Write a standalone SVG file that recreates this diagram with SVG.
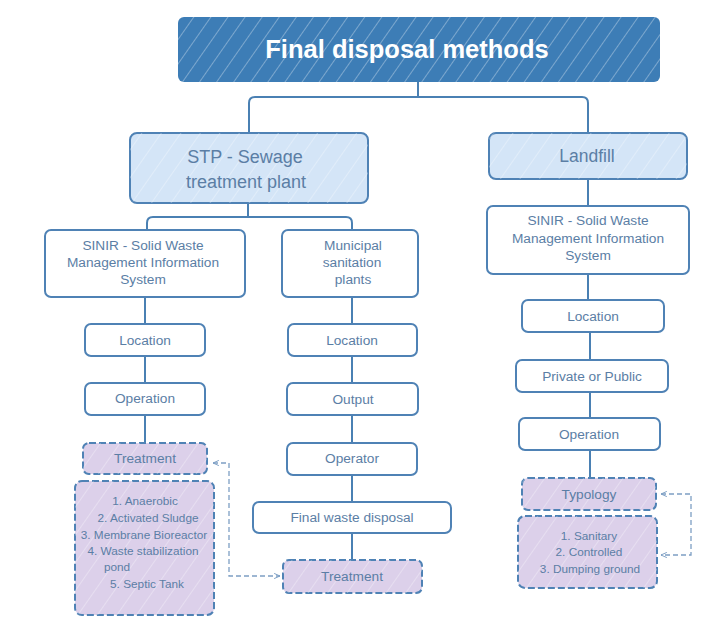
<svg xmlns="http://www.w3.org/2000/svg" width="709" height="617" viewBox="0 0 709 617">
<defs>
<pattern id="hatchW" patternUnits="userSpaceOnUse" width="14" height="14" patternTransform="rotate(35)">
<line x1="0" y1="0" x2="0" y2="14" stroke="#ffffff" stroke-width="1.2" stroke-opacity="0.55"/>
</pattern>
<pattern id="hatchL" patternUnits="userSpaceOnUse" width="16" height="16" patternTransform="rotate(35)">
<line x1="0" y1="0" x2="0" y2="16" stroke="#ffffff" stroke-width="1" stroke-opacity="0.6"/>
</pattern>
<marker id="ah" viewBox="0 0 10 10" refX="9" refY="5" markerWidth="5" markerHeight="5" orient="auto-start-reverse">
<path d="M0,1 L9,5 L0,9" fill="none" stroke="#7d9fc4" stroke-width="1.5"/>
</marker>
</defs>
<style>
.t{font-family:"Liberation Sans",Arial,sans-serif;fill:#5b7ea5;text-anchor:middle}
.box{fill:#ffffff;stroke:#4f82b5;stroke-width:2}
.blue{fill:#d4e5f7;stroke:#4f82b5;stroke-width:2}
.purp{fill:#dcd0ea;stroke:#4f82b5;stroke-width:2;stroke-dasharray:7 3}
.con{fill:none;stroke:#4a80b3;stroke-width:2}
.dash{fill:none;stroke:#7d9fc4;stroke-width:1.3;stroke-dasharray:5 3}
</style>
<rect width="709" height="617" fill="#ffffff"/>
<g id="connectors">
<path class="con" d="M418,82 V97"/>
<path class="con" d="M249,133 V103 Q249,97 255,97 H582 Q588,97 588,103 V133"/>
<path class="con" d="M248,203 V217"/>
<path class="con" d="M147,229 V223 Q147,217 153,217 H346 Q352,217 352,223 V229"/>
<path class="con" d="M145,297 V324 M145,356 V383 M145,415 V443"/>
<path class="con" d="M352,297 V324 M352,356 V383 M352,415 V443 M352,475 V502 M352,533 V560"/>
<path class="con" d="M588,179 V206 M588,274 V300 M590,332 V360 M590,392 V418 M590,450 V478"/>
<path class="dash" marker-start="url(#ah)" marker-end="url(#ah)" d="M213,463 H229 V576 H280"/>
<path class="dash" marker-start="url(#ah)" marker-end="url(#ah)" d="M661,494 H691 V555 H661"/>
</g>
<g id="title">
<rect x="178" y="17" width="482" height="65" rx="6" fill="#3d7db6"/>
<rect x="178" y="17" width="482" height="65" rx="6" fill="url(#hatchW)"/>
<text x="407" y="58" style="font-family:'Liberation Sans',Arial,sans-serif;font-weight:bold;font-size:25.5px;fill:#ffffff;text-anchor:middle">Final disposal methods</text>
</g>
<g id="stp">
<rect class="blue" x="130" y="133" width="238" height="70" rx="7"/>
<rect x="130" y="133" width="238" height="70" rx="7" fill="url(#hatchL)"/>
<text class="t" x="245" y="163" font-size="18">STP - Sewage</text>
<text class="t" x="246" y="188" font-size="18">treatment plant</text>
</g>
<g id="landfill">
<rect class="blue" x="489" y="133" width="198" height="46" rx="7"/>
<rect x="489" y="133" width="198" height="46" rx="7" fill="url(#hatchL)"/>
<text class="t" x="587" y="162" font-size="17.5">Landfill</text>
</g>
<g id="sinir-left">
<rect class="box" x="45" y="230" width="200" height="67" rx="6"/>
<text class="t" x="143" y="250" font-size="13.7">SINIR - Solid Waste</text>
<text class="t" x="143" y="267" font-size="13.7">Management Information</text>
<text class="t" x="143" y="284" font-size="13.7">System</text>
</g>
<g id="municipal">
<rect class="box" x="282" y="230" width="136" height="67" rx="6"/>
<text class="t" x="353" y="250" font-size="13.7">Municipal</text>
<text class="t" x="352" y="267" font-size="13.7">sanitation</text>
<text class="t" x="353" y="284" font-size="13.7">plants</text>
</g>
<g id="sinir-right">
<rect class="box" x="487" y="206" width="202" height="68" rx="6"/>
<text class="t" x="588" y="225" font-size="13.7">SINIR - Solid Waste</text>
<text class="t" x="588" y="243" font-size="13.7">Management Information</text>
<text class="t" x="588" y="260" font-size="13.7">System</text>
</g>
<g id="loc-left">
<rect class="box" x="85" y="324" width="120" height="32" rx="6"/>
<text class="t" x="145" y="345" font-size="13.7">Location</text>
</g>
<g id="op-left">
<rect class="box" x="85" y="383" width="120" height="32" rx="6"/>
<text class="t" x="145" y="403" font-size="13.7">Operation</text>
</g>
<g id="treat-left">
<rect class="purp" x="83" y="443" width="124" height="31" rx="6"/>
<rect x="83" y="443" width="124" height="31" rx="6" fill="url(#hatchL)"/>
<text class="t" x="145" y="463" font-size="13.7">Treatment</text>
</g>
<g id="list-left">
<rect class="purp" x="75" y="481" width="139" height="134" rx="7"/>
<rect x="75" y="481" width="139" height="134" rx="7" fill="url(#hatchL)"/>
<text class="t" x="145" y="505" font-size="11.8">1. Anaerobic</text>
<text class="t" x="148" y="522" font-size="11.8">2. Activated Sludge</text>
<text class="t" x="144" y="539" font-size="11.8">3. Membrane Bioreactor</text>
<text class="t" x="143" y="555" font-size="11.8">4. Waste stabilization</text>
<text class="t" x="117" y="571" font-size="11.8">pond</text>
<text class="t" x="147" y="588" font-size="11.8">5. Septic Tank</text>
</g>
<g id="loc-mid">
<rect class="box" x="288" y="324" width="129" height="32" rx="6"/>
<text class="t" x="352" y="345" font-size="13.7">Location</text>
</g>
<g id="output">
<rect class="box" x="287" y="383" width="131" height="32" rx="6"/>
<text class="t" x="353" y="404" font-size="13.7">Output</text>
</g>
<g id="operator">
<rect class="box" x="287" y="443" width="130" height="32" rx="6"/>
<text class="t" x="352" y="463" font-size="13.7">Operator</text>
</g>
<g id="final-waste">
<rect class="box" x="253" y="502" width="198" height="31" rx="6"/>
<text class="t" x="352" y="522" font-size="13.7">Final waste disposal</text>
</g>
<g id="treat-mid">
<rect class="purp" x="283" y="560" width="139" height="33" rx="6"/>
<rect x="283" y="560" width="139" height="33" rx="6" fill="url(#hatchL)"/>
<text class="t" x="352" y="581" font-size="13.7">Treatment</text>
</g>
<g id="loc-right">
<rect class="box" x="522" y="300" width="142" height="32" rx="6"/>
<text class="t" x="593" y="321" font-size="13.7">Location</text>
</g>
<g id="private-public">
<rect class="box" x="516" y="360" width="152" height="32" rx="6"/>
<text class="t" x="592" y="381" font-size="13.7">Private or Public</text>
</g>
<g id="op-right">
<rect class="box" x="519" y="418" width="141" height="32" rx="6"/>
<text class="t" x="589" y="439" font-size="13.7">Operation</text>
</g>
<g id="typology">
<rect class="purp" x="522" y="478" width="134" height="32" rx="6"/>
<rect x="522" y="478" width="134" height="32" rx="6" fill="url(#hatchL)"/>
<text class="t" x="589" y="499" font-size="13.7">Typology</text>
</g>
<g id="list-right">
<rect class="purp" x="518" y="516" width="139" height="72" rx="7"/>
<rect x="518" y="516" width="139" height="72" rx="7" fill="url(#hatchL)"/>
<text class="t" x="589" y="540" font-size="11.8">1. Sanitary</text>
<text class="t" x="589" y="556" font-size="11.8">2. Controlled</text>
<text class="t" x="590" y="573" font-size="11.8">3. Dumping ground</text>
</g>
</svg>
